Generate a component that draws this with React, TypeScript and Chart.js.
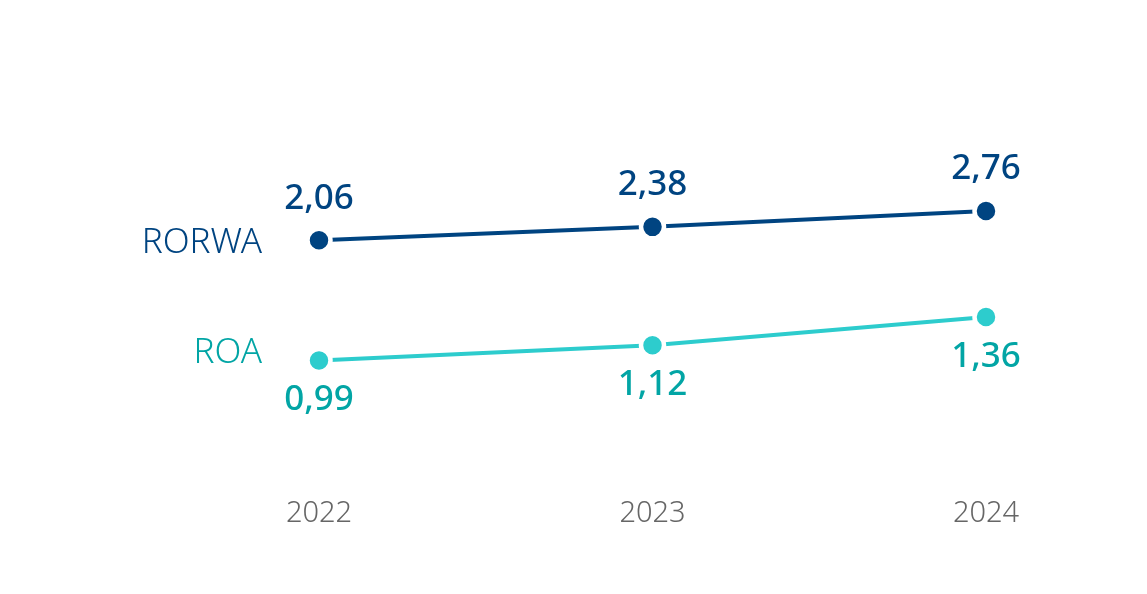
import React, { useEffect, useRef } from "react";
import { Chart, registerables } from "chart.js";

Chart.register(...registerables);

const years = ["2022", "2023", "2024"];
const rorwaValues = [2.06, 2.38, 2.76];
const roaValues = [0.99, 1.12, 1.36];
const seriesNames = ["RORWA", "ROA"];

const NAVY = "#004481";
const AQUA = "#2DCCCD";
const AQUA_DARK = "#02A5A5";
const FONT = "'Noto Sans', 'Open Sans', sans-serif";

const fmt = (v: number) => v.toFixed(2).replace(".", ",");

const labelPlugin = {
  id: "valueLabels",
  afterDatasetsDraw(chart: any) {
    const ctx = chart.ctx as CanvasRenderingContext2D;
    chart.data.datasets.forEach((ds: any, i: number) => {
      const meta = chart.getDatasetMeta(i);
      if (!meta || !meta.data.length) return;
      ctx.save();
      ctx.font = `500 35px ${FONT}`;
      ctx.fillStyle = ds.labelColor;
      ctx.textAlign = "center";
      ctx.textBaseline = "alphabetic";
      meta.data.forEach((pt: any, j: number) => {
        const v = ds.data[j] as number;
        ctx.fillText(fmt(v), pt.x, pt.y + ds.valueDy + 35 * 0.357);
      });
      ctx.restore();
      const first = meta.data[0];
      ctx.save();
      ctx.font = `300 35px ${FONT}`;
      ctx.fillStyle = ds.labelColor;
      ctx.textAlign = "right";
      ctx.textBaseline = "alphabetic";
      ctx.fillText(ds.label, 262, first.y + ds.nameDy + 35 * 0.357);
      ctx.restore();
    });
  },
};

export default function App() {
  const ref = useRef<HTMLCanvasElement | null>(null);

  useEffect(() => {
    document.body.style.margin = "0";
    if (!ref.current) return;
    const chart = new Chart(ref.current, {
      type: "line",
      data: {
        labels: years,
        datasets: [
          {
            label: seriesNames[0],
            data: rorwaValues,
            yAxisID: "y",
            borderColor: NAVY,
            backgroundColor: NAVY,
            borderWidth: 4,
            pointRadius: 11.5,
            pointBorderWidth: 4.5,
            pointBorderColor: "#ffffff",
            pointBackgroundColor: NAVY,
            tension: 0,
            labelColor: NAVY,
            valueDy: -44,
            nameDy: 0,
          } as any,
          {
            label: seriesNames[1],
            data: roaValues,
            yAxisID: "y2",
            borderColor: AQUA,
            backgroundColor: AQUA,
            borderWidth: 4,
            pointRadius: 11.5,
            pointBorderWidth: 4.5,
            pointBorderColor: "#ffffff",
            pointBackgroundColor: AQUA,
            tension: 0,
            labelColor: AQUA_DARK,
            valueDy: 37,
            nameDy: -10,
          } as any,
        ],
      },
      options: {
        animation: false,
        responsive: false,
        maintainAspectRatio: false,
        layout: { padding: { left: 319, right: 161, top: 100, bottom: 47.5 } },
        plugins: {
          legend: { display: false },
          tooltip: { enabled: false },
        },
        scales: {
          x: {
            offset: false,
            grid: { display: false, drawTicks: false },
            border: { display: false },
            ticks: {
              color: "#666666",
              padding: 15.5,
              font: { family: FONT, size: 29, weight: 300 as any },
            },
          },
          y: { display: false, min: -3.673, max: 5.405 },
          y2: { display: false, min: -0.036, max: 3.212 },
        },
      },
      plugins: [labelPlugin],
    });
    return () => chart.destroy();
  }, []);

  return (
    <div style={{ width: 1147, height: 594, background: "#fff" }}>
      <canvas ref={ref} width={1147} height={594} style={{ display: "block" }} />
    </div>
  );
}
